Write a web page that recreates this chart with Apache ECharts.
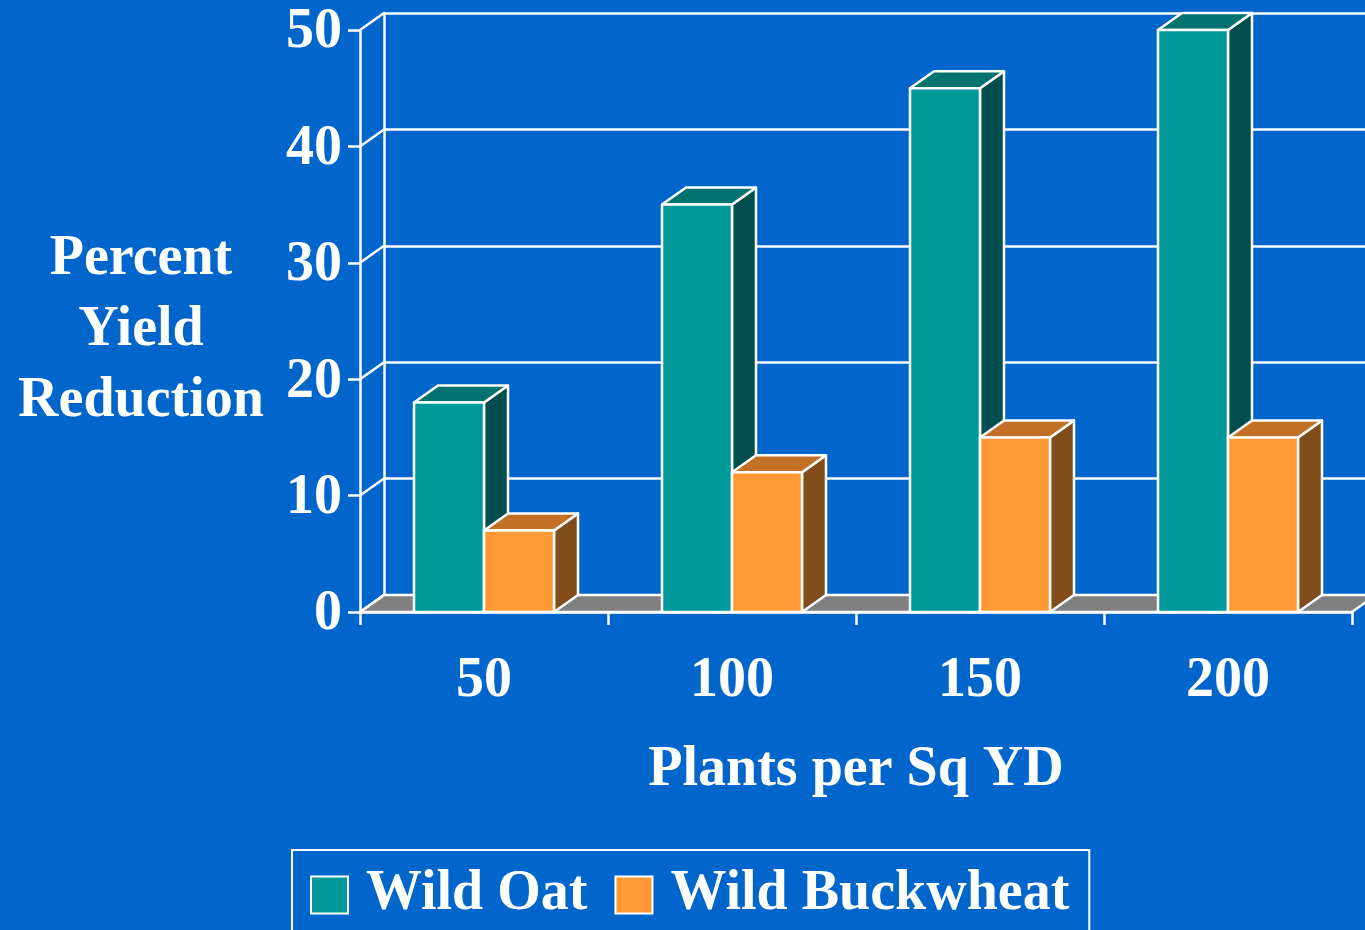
<!DOCTYPE html>
<html><head><meta charset="utf-8">
<script src="https://cdn.jsdelivr.net/npm/echarts@6/dist/echarts.min.js"></script>
<style>html,body{margin:0;padding:0;background:#0066CC;overflow:hidden;} #c{width:1365px;height:930px;}</style>
</head><body><div id="c"></div>
<script>
const categories = ['50', '100', '150', '200'];
const wildOat = [18, 35, 45, 50];
const wildBuckwheat = [7, 12, 15, 15];
const yTicks = [0, 10, 20, 30, 40, 50];
const seriesNames = ['Wild Oat', 'Wild Buckwheat'];
const xAxisTitle = 'Plants per Sq YD';
const yAxisTitle = 'Percent\nYield\nReduction';

const FONT = '"Liberation Serif","Times New Roman",serif';
const DX = 24, DY = -17;
const BAR_RATIO = 70 / 248;
const colOat = { front: '#009999', top: '#007370', side: '#004D4D' };
const colBuck = { front: '#FF9933', top: '#C27026', side: '#804C1A' };

function barRender(col, side) {
  return function (params, api) {
    const idx = api.value(0), v = api.value(1);
    const top = api.coord([idx, v]);
    const base = api.coord([idx, 0]);
    const bw = api.size([1, 0])[0] * BAR_RATIO;
    const x0 = side < 0 ? top[0] - bw : top[0];
    const x1 = x0 + bw;
    const yt = top[1], yb = base[1];
    const st = { stroke: '#fff', lineWidth: 2.5, lineJoin: 'round' };
    return { type: 'group', children: [
      { type: 'polygon', shape: { points: [[x1, yt], [x1 + DX, yt + DY], [x1 + DX, yb + DY], [x1, yb]] }, style: Object.assign({ fill: col.side }, st) },
      { type: 'polygon', shape: { points: [[x0, yt], [x1, yt], [x1 + DX, yt + DY], [x0 + DX, yt + DY]] }, style: Object.assign({ fill: col.top }, st) },
      { type: 'rect', shape: { x: x0, y: yt, width: bw, height: yb - yt }, style: Object.assign({ fill: col.front }, st) }
    ] };
  };
}

function frameRender(params, api) {
  const v = api.value(1);
  const cs = params.coordSys;
  const y = api.coord([0, v])[1];
  const cx = cs.x, w = cs.width;
  const children = [];
  if (v === 0) {
    children.push({ type: 'polygon', shape: { points: [[cx, y], [cx + DX, y + DY], [cx + w + DX, y + DY], [cx + w, y]] },
      style: { fill: '#808080', stroke: '#fff', lineWidth: 2.5 } });
  }
  children.push({ type: 'line', shape: { x1: cx, y1: y, x2: cx + DX, y2: y + DY }, style: { stroke: '#fff', lineWidth: 2.5 } });
  return { type: 'group', children: children };
}

const chart = echarts.init(document.getElementById('c'));
chart.setOption({
  backgroundColor: '#0066CC',
  animation: false,
  textStyle: { fontFamily: FONT },
  grid: [
    { left: 360, right: 13, top: 30, bottom: 318 },
    { left: 360 + DX, right: -20, top: 30 + DY, bottom: 318 - DY }
  ],
  xAxis: [
    { type: 'category', gridIndex: 0, data: categories,
      axisLine: { lineStyle: { color: '#fff', width: 2.5 } },
      axisTick: { show: true, length: 13, lineStyle: { color: '#fff', width: 2.5 } },
      axisLabel: { color: '#fff', fontSize: 56, fontWeight: 'bold', fontFamily: FONT, margin: 42, lineHeight: 56 },
      name: xAxisTitle, nameLocation: 'middle', nameGap: 131,
      nameTextStyle: { color: '#fff', fontSize: 56, fontWeight: 'bold', fontFamily: FONT, lineHeight: 56 }
    },
    { type: 'value', gridIndex: 1, show: false, min: 0, max: 1 }
  ],
  yAxis: [
    { type: 'value', gridIndex: 0, min: 0, max: 50, interval: 10,
      axisLine: { show: true, lineStyle: { color: '#fff', width: 2.5 } },
      axisTick: { show: true, length: 12, lineStyle: { color: '#fff', width: 2.5 } },
      axisLabel: { color: '#fff', fontSize: 56, fontWeight: 'bold', fontFamily: FONT, margin: 18,
        verticalAlign: 'top', lineHeight: 6 },
      splitLine: { show: false }
    },
    { type: 'value', gridIndex: 1, min: 0, max: 50, interval: 10,
      axisLine: { show: true, lineStyle: { color: '#fff', width: 2.5 } },
      axisTick: { show: false }, axisLabel: { show: false },
      splitLine: { show: true, lineStyle: { color: '#fff', width: 2.5 } }
    }
  ],
  legend: {
    data: seriesNames, left: 292, top: 850, orient: 'horizontal',
    padding: [17, 20, 20, 18], itemGap: 27, itemWidth: 37, itemHeight: 37, icon: 'rect',
    borderColor: '#fff', borderWidth: 2,
    itemStyle: { borderColor: '#fff', borderWidth: 2 },
    textStyle: { color: '#fff', fontSize: 56, fontWeight: 'bold', fontFamily: FONT, padding: [20, 0, 0, 13] }
  },
  graphic: [
    { type: 'text', x: 141, y: 224, style: { text: yAxisTitle, fill: '#fff', font: 'bold 56px ' + FONT,
      textAlign: 'center', textVerticalAlign: 'top', lineHeight: 71 } }
  ],
  series: [
    { type: 'custom', name: 'frame', xAxisIndex: 0, yAxisIndex: 0, z: 1, silent: true,
      data: yTicks.map(v => [0, v]), renderItem: frameRender },
    { type: 'custom', name: seriesNames[0], xAxisIndex: 0, yAxisIndex: 0, z: 2,
      itemStyle: { color: colOat.front },
      data: wildOat.map((v, i) => [i, v]), renderItem: barRender(colOat, -1) },
    { type: 'custom', name: seriesNames[1], xAxisIndex: 0, yAxisIndex: 0, z: 2,
      itemStyle: { color: colBuck.front },
      data: wildBuckwheat.map((v, i) => [i, v]), renderItem: barRender(colBuck, 1) }
  ]
});
</script></body></html>
